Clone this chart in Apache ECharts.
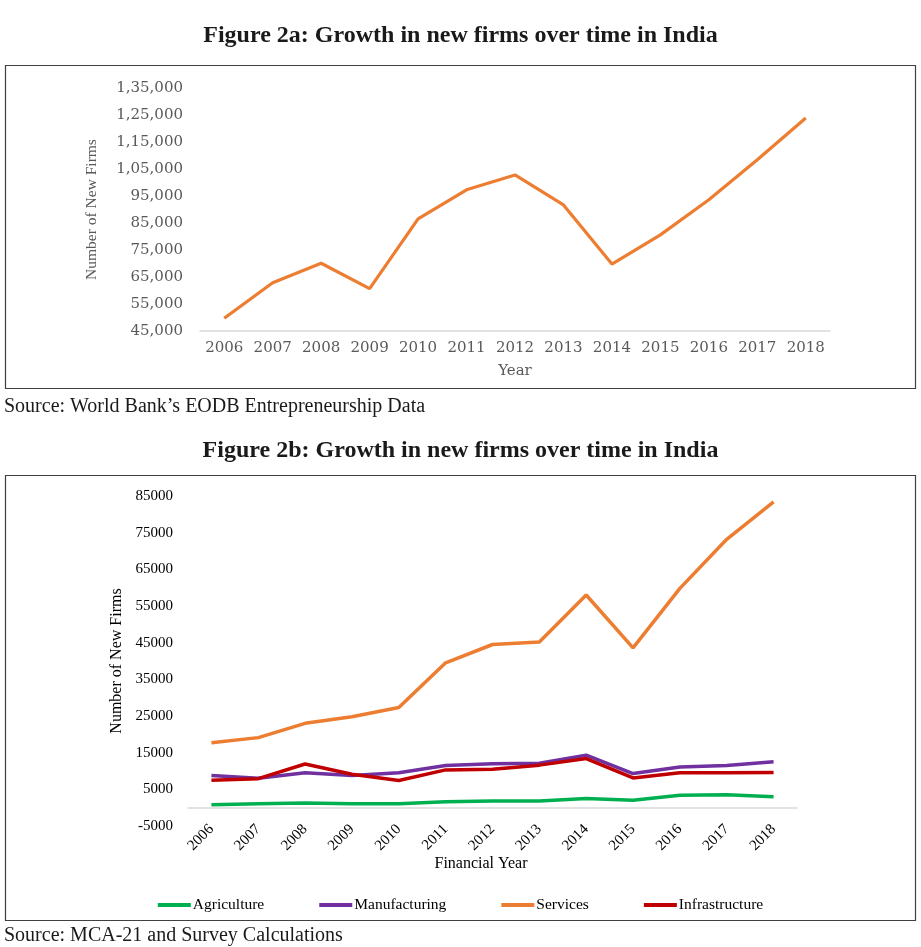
<!DOCTYPE html>
<html>
<head>
<meta charset="utf-8">
<script src="https://cdn.jsdelivr.net/npm/echarts@6/dist/echarts.min.js"></script>
<style>
html,body{margin:0;padding:0;background:#fff;}
#c{width:921px;height:947px;}
</style>
</head>
<body>
<div id="c"></div>
<script>
// ---- Data ----
const years = ['2006','2007','2008','2009','2010','2011','2012','2013','2014','2015','2016','2017','2018'];
const totalNewFirms = [49700, 62900, 70100, 60700, 86500, 97300, 102800, 91700, 69800, 80600, 93600, 108400, 123900];

const agriculture    = [800, 1100, 1300, 1100, 1100, 1600, 1800, 1800, 2500, 2000, 3400, 3500, 3000];
const manufacturing  = [8800, 8000, 9500, 8800, 9500, 11500, 12000, 12100, 14300, 9300, 11100, 11500, 12500];
const services       = [17700, 19100, 23000, 24800, 27300, 39500, 44500, 45200, 58000, 43600, 59800, 73200, 83400];
const infrastructure = [7500, 7900, 11900, 9100, 7400, 10300, 10500, 11600, 13400, 8100, 9500, 9500, 9600];

const sectorNames = ['Agriculture', 'Manufacturing', 'Services', 'Infrastructure'];

// Indian digit grouping, e.g. 135000 -> 1,35,000
function indianFormat(v) {
  const s = String(Math.round(Math.abs(v)));
  let out;
  if (s.length <= 3) out = s;
  else {
    const last3 = s.slice(-3);
    let rest = s.slice(0, -3);
    const parts = [];
    while (rest.length > 2) { parts.unshift(rest.slice(-2)); rest = rest.slice(0, -2); }
    if (rest.length) parts.unshift(rest);
    out = parts.join(',') + ',' + last3;
  }
  return (v < 0 ? '-' : '') + out;
}

const serif = '"Liberation Serif", "Times New Roman", serif';
const wideSerif = '"DejaVu Serif", serif';

const chart = echarts.init(document.getElementById('c'), null, {renderer: 'canvas'});

const option = {
  backgroundColor: '#fff',
  animation: false,
  title: [
    { text: 'Figure 2a: Growth in new firms over time in India', left: 'center', top: 19,
      textStyle: { fontFamily: serif, fontWeight: 'bold', fontSize: 24, color: '#1a1a1a' } },
    { text: 'Figure 2b: Growth in new firms over time in India', left: 'center', top: 434,
      textStyle: { fontFamily: serif, fontWeight: 'bold', fontSize: 24, color: '#1a1a1a' } }
  ],
  graphic: [
    { type: 'rect', shape: { x: 5.5, y: 65.5, width: 910, height: 323 },
      style: { fill: 'none', stroke: '#404040', lineWidth: 1.2 }, silent: true },
    { type: 'rect', shape: { x: 5.5, y: 475.5, width: 910, height: 445 },
      style: { fill: 'none', stroke: '#404040', lineWidth: 1.2 }, silent: true },
    { type: 'text', left: 4, top: 397,
      style: { text: 'Source: World Bank\u2019s EODB Entrepreneurship Data', font: '20px ' + serif, fill: '#1a1a1a' } },
    { type: 'text', left: 4, top: 926,
      style: { text: 'Source: MCA-21 and Survey Calculations', font: '20px ' + serif, fill: '#1a1a1a' } },
    { type: 'text', x: 481, y: 864,
      style: { text: 'Financial Year', font: '16px ' + serif, fill: '#000', align: 'center', verticalAlign: 'middle' } }
  ],
  legend: {
    data: sectorNames,
    left: 'center',
    top: 892,
    icon: 'rect',
    itemWidth: 33,
    itemHeight: 4,
    itemGap: 55,
    textStyle: { fontFamily: serif, fontSize: 15.5, color: '#000', padding: [0, 0, 0, -3] }
  },
  grid: [
    { left: 200, right: 91, top: 88, bottom: 616, containLabel: false },
    { left: 188, right: 124, top: 496, bottom: 121, containLabel: false }
  ],
  xAxis: [
    {
      type: 'category', gridIndex: 0, data: years, boundaryGap: true,
      axisLine: { lineStyle: { color: '#d9d9d9', width: 1.5 } },
      axisTick: { show: false },
      axisLabel: { fontFamily: wideSerif, fontSize: 15, color: '#595959', margin: 10, interval: 0 },
      name: 'Year', nameLocation: 'middle', nameGap: 33,
      nameTextStyle: { fontFamily: wideSerif, fontSize: 15, color: '#595959' }
    },
    {
      type: 'category', gridIndex: 1, data: years, boundaryGap: true,
      axisLine: { onZero: true, lineStyle: { color: '#d9d9d9', width: 1.5 } },
      axisTick: { show: false },
      axisLabel: { fontFamily: serif, fontSize: 15, color: '#000', margin: 1, rotate: 45, interval: 0 }
    }
  ],
  yAxis: [
    {
      type: 'value', gridIndex: 0, min: 45000, max: 135000, interval: 10000,
      axisLine: { show: false }, axisTick: { show: false }, splitLine: { show: false },
      axisLabel: { fontFamily: wideSerif, fontSize: 15, color: '#595959', margin: 17, formatter: indianFormat },
      name: 'Number of New Firms', nameLocation: 'middle', nameGap: 100,
      nameTextStyle: { fontFamily: serif, fontSize: 15.5, color: '#595959' }
    },
    {
      type: 'value', gridIndex: 1, min: -5000, max: 85000, interval: 10000,
      axisLine: { show: false }, axisTick: { show: false }, splitLine: { show: false },
      axisLabel: { fontFamily: serif, fontSize: 15, color: '#000', margin: 15, formatter: v => String(v) },
      name: 'Number of New Firms', nameLocation: 'middle', nameGap: 60,
      nameTextStyle: { fontFamily: serif, fontSize: 16, color: '#000' }
    }
  ],
  series: [
    { name: 'New Firms', type: 'line', xAxisIndex: 0, yAxisIndex: 0, data: totalNewFirms,
      showSymbol: false, lineStyle: { color: '#ED7D31', width: 3.2 }, itemStyle: { color: '#ED7D31' } },
    { name: 'Agriculture', type: 'line', xAxisIndex: 1, yAxisIndex: 1, data: agriculture,
      showSymbol: false, lineStyle: { color: '#00B050', width: 3.5 }, itemStyle: { color: '#00B050' } },
    { name: 'Manufacturing', type: 'line', xAxisIndex: 1, yAxisIndex: 1, data: manufacturing,
      showSymbol: false, lineStyle: { color: '#7030A0', width: 3.5 }, itemStyle: { color: '#7030A0' } },
    { name: 'Services', type: 'line', xAxisIndex: 1, yAxisIndex: 1, data: services,
      showSymbol: false, lineStyle: { color: '#ED7D31', width: 3.5 }, itemStyle: { color: '#ED7D31' } },
    { name: 'Infrastructure', type: 'line', xAxisIndex: 1, yAxisIndex: 1, data: infrastructure,
      showSymbol: false, lineStyle: { color: '#C00000', width: 3.5 }, itemStyle: { color: '#C00000' } }
  ]
};
chart.setOption(option);
</script>
</body>
</html>
